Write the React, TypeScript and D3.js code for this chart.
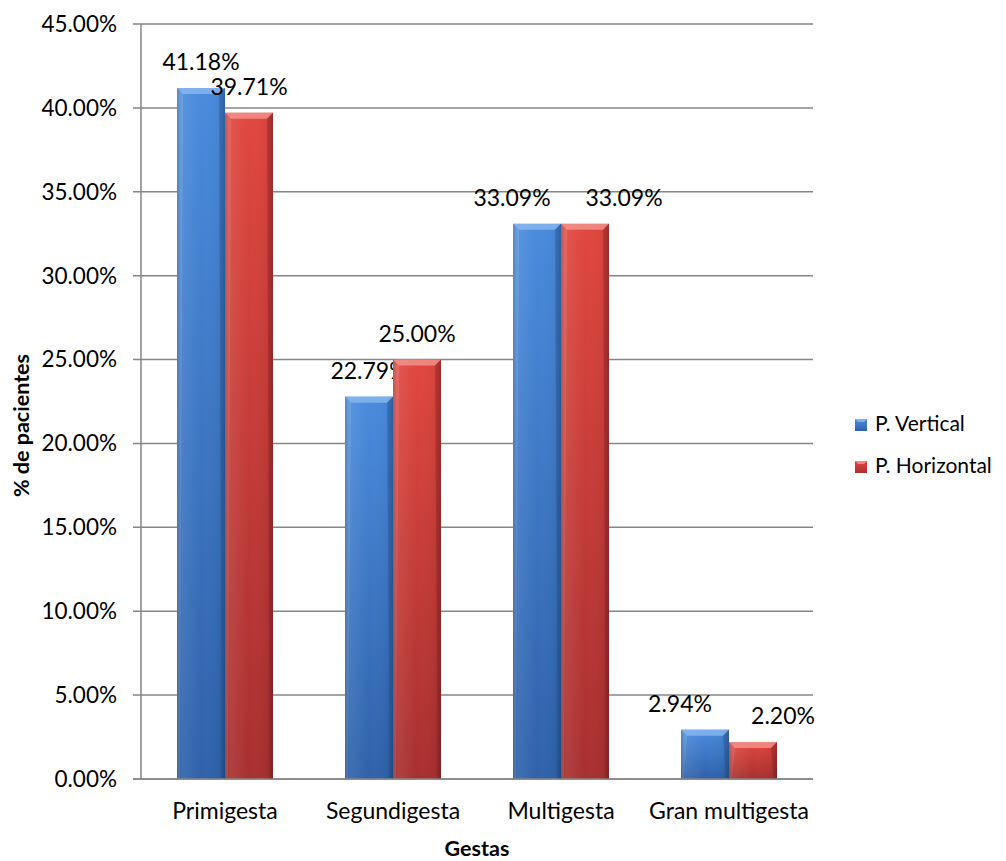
import * as React from "react";
import * as d3 from "d3";

const categories = ["Primigesta", "Segundigesta", "Multigesta", "Gran multigesta"];
const seriesNames = ["P. Vertical", "P. Horizontal"];
const vertical = [41.18, 22.79, 33.09, 2.94];
const horizontal = [39.71, 25.0, 33.09, 2.2];
const yTicks = [0, 5, 10, 15, 20, 25, 30, 35, 40, 45];

// manual label nudges (x) as in the original sheet
const labelNudge = [
  [0, 0],
  [0, 0],
  [-25, 39],
  [-25, 30],
];

const WIDTH = 1006;
const HEIGHT = 861;
const margin = { left: 141, right: 193, top: 24, bottom: 82 };
const FONT = "Lato, 'Open Sans', sans-serif";

const palette = [
  { top: "#4A8BDD", bottom: "#2F62AA", bevel: "#8DBBF2", dark: "#1F4A86" },
  { top: "#E0473F", bottom: "#A83030", bevel: "#F59A94", dark: "#7E1E1E" },
];

export default function App() {
  const innerW = WIDTH - margin.left - margin.right;
  const innerH = HEIGHT - margin.top - margin.bottom;

  const x0 = d3.scaleBand().domain(categories).range([0, innerW]).paddingInner(0.4286).paddingOuter(0.2143);
  const x1 = d3.scaleBand().domain(seriesNames).range([0, x0.bandwidth()]);
  const y = d3.scaleLinear().domain([0, 45]).range([innerH, 0]);

  const values = [vertical, horizontal];
  const b = 6;

  return (
    <svg
      width={WIDTH}
      height={HEIGHT}
      style={{ position: "absolute", left: 0, top: 0, background: "#fff" }}
      fontFamily={FONT}
    >
      <defs>
        {palette.map((p, i) => (
          <linearGradient key={i} id={`vg${i}`} x1="0" y1="0" x2="0" y2="1">
            <stop offset="0" stopColor={p.top} />
            <stop offset="1" stopColor={p.bottom} />
          </linearGradient>
        ))}
        <linearGradient id="hg" x1="0" y1="0" x2="1" y2="0">
          <stop offset="0" stopColor="#000" stopOpacity={0.15} />
          <stop offset="0.12" stopColor="#fff" stopOpacity={0.08} />
          <stop offset="0.5" stopColor="#fff" stopOpacity={0} />
          <stop offset="0.88" stopColor="#000" stopOpacity={0.04} />
          <stop offset="1" stopColor="#000" stopOpacity={0.22} />
        </linearGradient>
      </defs>
      <g transform={`translate(${margin.left},${margin.top})`}>
        {yTicks.map((t) => (
          <g key={t} transform={`translate(0,${y(t)})`}>
            <line x1={-8} x2={innerW} stroke="#868686" strokeWidth={1.5} />
            <text x={-24} dy="0.35em" textAnchor="end" fontSize={22.5} fill="#000">
              {t.toFixed(2)}%
            </text>
          </g>
        ))}
        <line x1={0} x2={0} y1={0} y2={innerH} stroke="#868686" strokeWidth={1.5} />

        {categories.map((c, ci) => (
          <g key={c} transform={`translate(${x0(c)},0)`}>
            {seriesNames.map((s, si) => {
              const v = values[si][ci];
              const bx = x1(s)!;
              const bw = x1.bandwidth();
              const by = y(v);
              const bh = innerH - by;
              const p = palette[si];
              const bb = Math.min(b, bh / 2);
              return (
                <g key={s}>
                  <rect x={bx} y={by} width={bw} height={bh} fill={`url(#vg${si})`} />
                  <rect x={bx} y={by} width={bw} height={bh} fill="url(#hg)" />
                  <polygon
                    points={`${bx},${by} ${bx + bw},${by} ${bx + bw - bb},${by + bb} ${bx + bb},${by + bb}`}
                    fill={p.bevel}
                    opacity={0.75}
                  />
                  <polygon
                    points={`${bx + bw},${by} ${bx + bw},${innerH} ${bx + bw - 3},${innerH} ${bx + bw - bb},${by + bb}`}
                    fill={p.dark}
                    opacity={0.35}
                  />
                  <polygon
                    points={`${bx},${by} ${bx + bb},${by + bb} ${bx + 3},${innerH} ${bx},${innerH}`}
                    fill="#fff"
                    opacity={0.12}
                  />
                  <text
                    x={bx + bw / 2 + labelNudge[ci][si]}
                    y={by - 18}
                    textAnchor="middle"
                    fontSize={23}
                    fill="#000"
                  >
                    {v.toFixed(2)}%
                  </text>
                </g>
              );
            })}
            <text x={x0.bandwidth() / 2} y={innerH + 40} textAnchor="middle" fontSize={23} fill="#000">
              {c}
            </text>
          </g>
        ))}
        <line x1={-8} x2={innerW} y1={innerH} y2={innerH} stroke="#868686" strokeWidth={1.5} />

        <text x={innerW / 2} y={innerH + 77} textAnchor="middle" fontSize={21.5} fontWeight="bold" fill="#000">
          Gestas
        </text>
        <text
          transform={`translate(${21 - margin.left},${innerH / 2 + 24}) rotate(-90)`}
          textAnchor="middle"
          dy="0.35em"
          fontSize={21.5}
          fontWeight="bold"
          fill="#000"
        >
          % de pacientes
        </text>
      </g>

      <g transform="translate(855,419)">
        {seriesNames.map((s, i) => (
          <g key={s} transform={`translate(0,${i * 42})`}>
            <rect width={12} height={12} fill={`url(#vg${i})`} />
            <polygon points="0,0 12,0 9,3 3,3" fill={palette[i].bevel} opacity={0.8} />
            <text x={20} y={12} fontSize={21} fill="#000">
              {s}
            </text>
          </g>
        ))}
      </g>
    </svg>
  );
}
